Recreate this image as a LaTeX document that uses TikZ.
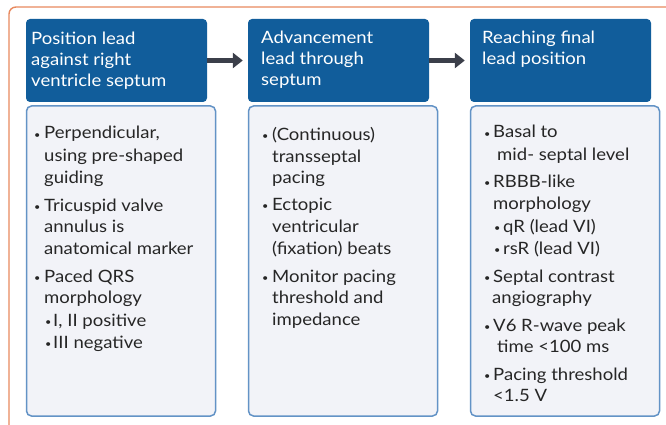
\documentclass[tikz,border=0pt]{standalone}
\usepackage{fontspec}
\setmainfont{Lato}[FakeStretch=1.09]
\usetikzlibrary{arrows.meta}
\definecolor{frameor}{HTML}{E8895E}
\definecolor{hdrblue}{HTML}{115D9B}
\definecolor{bodyfill}{HTML}{F2F3F8}
\definecolor{bodyline}{HTML}{6393C6}
\definecolor{arrowgray}{HTML}{3B3F4A}
\definecolor{txtgray}{HTML}{262626}
\newcommand{\bul}{{\fontsize{10}{10}\selectfont\raisebox{0.5pt}{•}}}
\begin{document}
\begin{tikzpicture}[x=1pt,y=-1pt,
  hdr/.style={fill=hdrblue,rounded corners=4pt,minimum width=181pt,minimum height=83pt,inner sep=0pt},
  bodybox/.style={fill=bodyfill,draw=bodyline,line width=1.5pt,rounded corners=5pt,minimum width=189pt,minimum height=310pt,inner sep=0pt},
  htxt/.style={anchor=base west,inner sep=0pt,text=white,font=\fontsize{17}{21}\selectfont},
  btxt/.style={anchor=base west,inner sep=0pt,text=txtgray,font=\fontsize{17}{21}\selectfont},
  bdot/.style={anchor=base west,inner sep=0pt,text=txtgray},
  flow/.style={arrowgray,line width=4.5pt,-{Triangle[length=10pt,width=15pt]},shorten >=5pt}]
\useasboundingbox (0,0) rectangle (666,425);
\fill[white] (0,0) rectangle (666,425);
% outer frame
\draw[frameor,line width=1.4pt,rounded corners=7pt] (9,440) -- (9,7) -- (680,7);
% headers
\node[hdr] (h1) at (116.5,60.5) {};
\node[hdr] (h2) at (338.5,60.5) {};
\node[hdr] (h3) at (560.5,60.5) {};
% bodies
\node[bodybox] (b1) at (121,261) {};
\node[bodybox] (b2) at (343,261) {};
\node[bodybox] (b3) at (565,261) {};
% arrows
\draw[flow] (h1.east) -- (h2.west);
\draw[flow] (h2.east) -- (h3.west);
% header texts
\node[htxt] (h1a) at (31,45) {Position lead};
\node[htxt] (h1b) at (31,66) {against right};
\node[htxt] (h1c) at (31,87) {ventricle septum};
\node[htxt] (h2a) at (261,44) {Advancement};
\node[htxt] (h2b) at (261,65) {lead through};
\node[htxt] (h2c) at (261,86) {septum};
\node[htxt] (h3a) at (482,44) {Reaching final};
\node[htxt] (h3b) at (482,65) {lead position};
% body 1
\node[bdot] (d11) at (34,139) {\bul};
\node[btxt] (t11) at (44,139) {Perpendicular,};
\node[btxt] (t12) at (44,161) {using pre-shaped};
\node[btxt] (t13) at (44,183) {guiding};
\node[bdot] (d12) at (34,211) {\bul};
\node[btxt] (t14) at (44,211) {Tricuspid valve};
\node[btxt] (t15) at (44,232) {annulus is};
\node[btxt] (t16) at (44,254) {anatomical marker};
\node[bdot] (d13) at (34,282) {\bul};
\node[btxt] (t17) at (44,282) {Paced QRS};
\node[btxt] (t18) at (44,303) {morphology};
\node[bdot] (d14) at (45,326) {\bul};
\node[btxt] (t19) at (53,326) {I, II positive};
\node[bdot] (d15) at (45,348) {\bul};
\node[btxt] (t110) at (53,348) {III negative};
% body 2
\node[bdot] (d21) at (262,140) {\bul};
\node[btxt] (t21) at (272,140) {(Continuous)};
\node[btxt] (t22) at (272,162) {transseptal};
\node[btxt] (t23) at (272,183) {pacing};
\node[bdot] (d22) at (262,210) {\bul};
\node[btxt] (t24) at (272,210) {Ectopic};
\node[btxt] (t25) at (272,232) {ventricular};
\node[btxt] (t26) at (272,254) {(fixation) beats};
\node[bdot] (d23) at (262,282) {\bul};
\node[btxt] (t27) at (272,282) {Monitor pacing};
\node[btxt] (t28) at (272,303) {threshold and};
\node[btxt] (t29) at (272,325) {impedance};
% body 3
\node[bdot] (d31) at (484,138) {\bul};
\node[btxt] (t31) at (493,138) {Basal to};
\node[btxt] (t32) at (497,160) {mid- septal level};
\node[bdot] (d32) at (484,187) {\bul};
\node[btxt] (t33) at (493,187) {RBBB-like};
\node[btxt] (t34) at (493,209) {morphology};
\node[bdot] (d33) at (494,232) {\bul};
\node[btxt] (t35) at (503,232) {qR (lead VI)};
\node[bdot] (d34) at (494,254) {\bul};
\node[btxt] (t36) at (503,254) {rsR (lead VI)};
\node[bdot] (d35) at (484,282) {\bul};
\node[btxt] (t37) at (493,282) {Septal contrast};
\node[btxt] (t38) at (492,303) {angiography};
\node[bdot] (d36) at (484,331) {\bul};
\node[btxt] (t39) at (493,331) {V6 R-wave peak};
\node[btxt] (t310) at (497,352) {time <100 ms};
\node[bdot] (d37) at (484,380) {\bul};
\node[btxt] (t311) at (493,380) {Pacing threshold};
\node[btxt] (t312) at (493,401) {<1.5 V};
\end{tikzpicture}
\end{document}
